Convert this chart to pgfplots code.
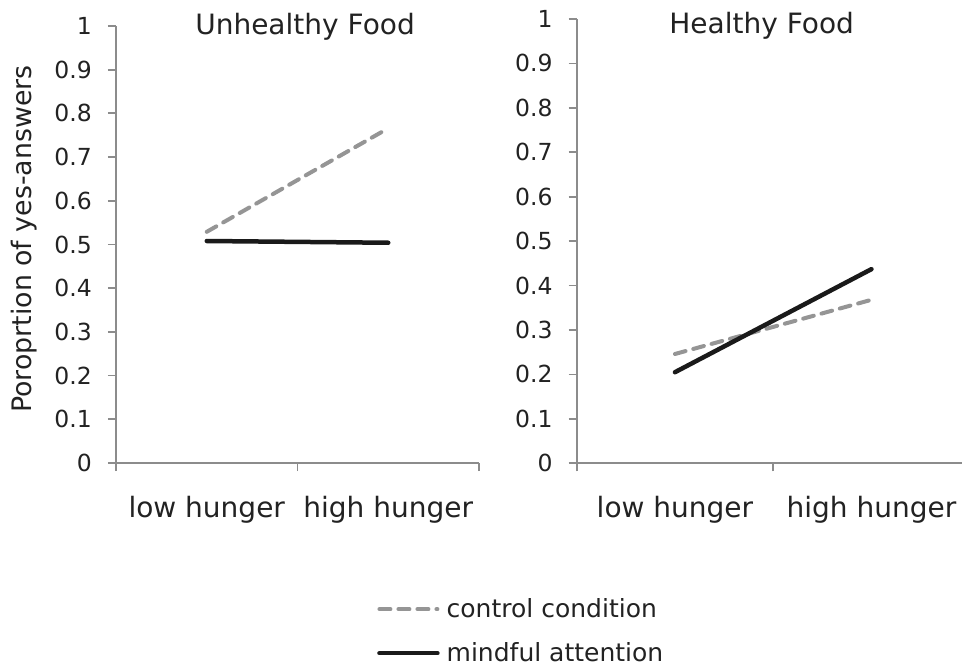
\documentclass[border=0pt]{standalone}
\usepackage{pgfplots}
\pgfplotsset{compat=1.18}
\usepackage{fontspec}
\setmainfont{DejaVu Sans}
\definecolor{axgray}{HTML}{8C8C8C}
\definecolor{ctrlgray}{HTML}{959595}
\definecolor{txt}{HTML}{222222}
\definecolor{blk}{HTML}{1A1A1A}
\pgfplotsset{
  panel/.style={
    scale only axis,
    xmin=0, xmax=2, ymin=0, ymax=1,
    axis x line*=bottom, axis y line*=left,
    axis line style={draw=axgray, line width=1.8pt, -},
    tick align=outside,
    major tick length=8pt,
    tick style={draw=axgray, line width=1.8pt},
    xtick={0,1,2}, xticklabels={},
    extra x ticks={0.5,1.5},
    extra x tick labels={low hunger, high hunger},
    extra x tick style={major tick length=0pt},
    xticklabel style={anchor=base, inner sep=0pt, yshift=-54pt, font=\fontsize{28}{32}\selectfont, text=txt},
    ytick={0,0.1,0.2,0.3,0.4,0.5,0.6,0.7,0.8,0.9,1},
    yticklabels={0,0.1,0.2,0.3,0.4,0.5,0.6,0.7,0.8,0.9,1},
    yticklabel style={anchor=east, inner sep=0pt, xshift=-16pt, font=\fontsize{23.5}{27}\selectfont, text=txt},
    clip=false,
    every axis title shift=0pt,
    title style={anchor=base, inner sep=0pt, font=\fontsize{28}{32}\selectfont, text=txt},
  },
  ctrl/.style={color=ctrlgray, line width=4pt, dash pattern=on 11pt off 8pt, line cap=round},
  mind/.style={color=blk, line width=4.5pt, line cap=round},
}
\begin{document}
\begin{tikzpicture}
\useasboundingbox (0,0) rectangle (962pt,667pt);
\begin{axis}[panel,
  at={(116pt,204pt)}, anchor=south west,
  width=363pt, height=437pt,
  title={Unhealthy Food},
  title style={at={(axis description cs:0.5207,0.9794)}},
  ylabel={Poroprtion of yes-answers},
  ylabel style={at={(axis description cs:-0.2534,0.5125)}, anchor=center, rotate=0, font=\fontsize{26.8}{30}\selectfont, text=txt},
  legend style={draw=none, fill=none, inner sep=0pt, at={(axis description cs:0.719,-0.306)}, anchor=north west,
    font=\fontsize{25}{30}\selectfont, text=txt, row sep=19.5pt},
  legend cell align=left,
  legend image code/.code={\draw[#1] (0pt,0pt) -- (58pt,0pt); \path (63pt,0pt);},
]
\addplot[ctrl] coordinates {(0.5,0.529) (1.5,0.766)};
\addlegendentry{control condition}
\addplot[mind] coordinates {(0.5,0.508) (1.5,0.504)};
\addlegendentry{mindful attention}
\end{axis}
\begin{axis}[panel,
  at={(576.7pt,203.7pt)}, anchor=south west,
  width=393pt, height=444.3pt,
  title={Healthy Food},
  title style={at={(axis description cs:0.4707,0.9678)}},
]
\addplot[ctrl] coordinates {(0.5,0.246) (1.5,0.368)};
\addplot[mind] coordinates {(0.5,0.205) (1.5,0.437)};
\end{axis}
\end{tikzpicture}
\end{document}
